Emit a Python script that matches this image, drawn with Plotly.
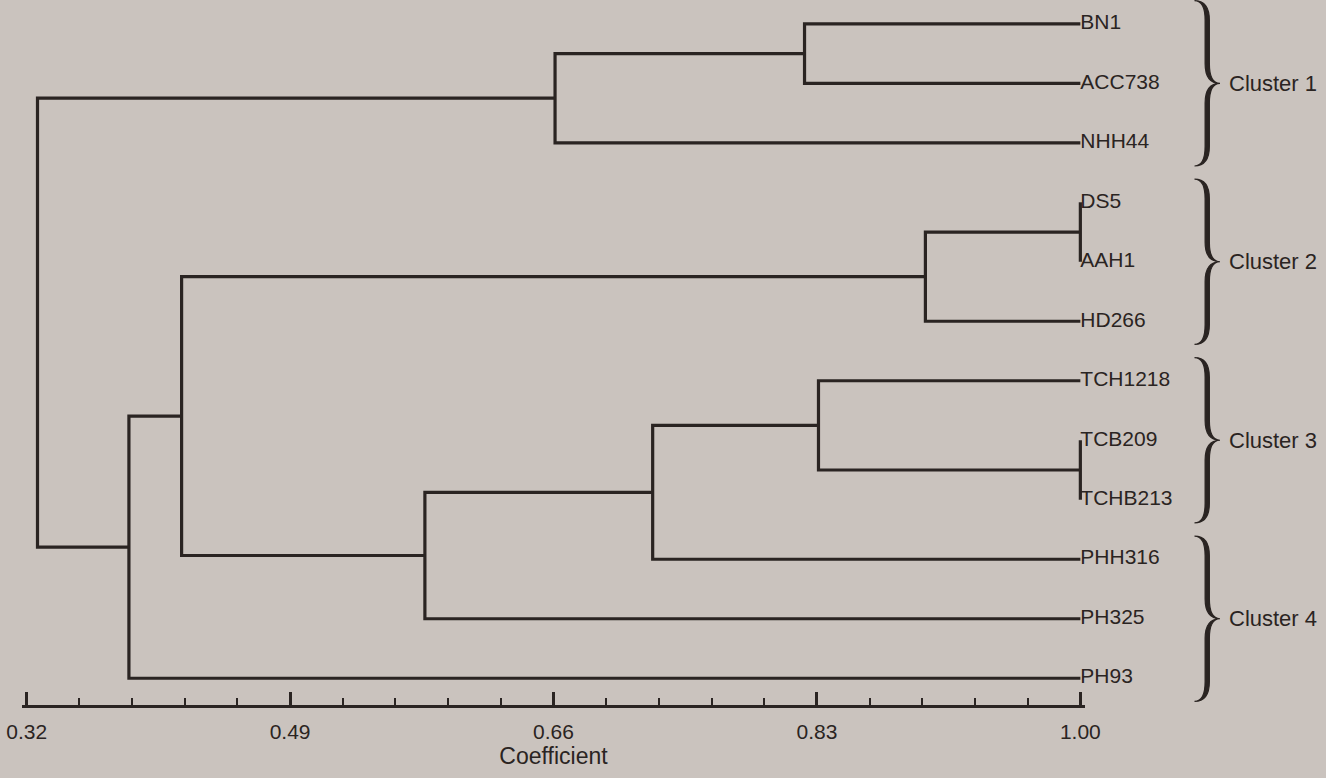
import plotly.graph_objects as go

# ---------------- data ----------------
leaves = ["BN1", "ACC738", "NHH44", "DS5", "AAH1", "HD266",
          "TCH1218", "TCB209", "TCHB213", "PHH316", "PH325", "PH93"]
leaf_coef = 1.00

merge_ids   = ["m0", "m1", "m2", "m3", "m4", "m5", "m6", "m7", "m8", "m9", "m10"]
merge_left  = ["BN1", "m0", "DS5", "m2", "TCB209", "TCH1218", "m5", "m6", "m3", "m8", "m1"]
merge_right = ["ACC738", "NHH44", "AAH1", "HD266", "TCHB213", "m4", "PHH316", "PH325", "m7", "PH93", "m9"]
merge_coef  = [0.822, 0.661, 1.00, 0.900, 1.00, 0.831, 0.724, 0.577, 0.420, 0.386, 0.327]

cluster_names = ["Cluster 1", "Cluster 2", "Cluster 3", "Cluster 4"]
cluster_first = ["BN1", "DS5", "TCH1218", "PHH316"]
cluster_last  = ["NHH44", "HD266", "TCHB213", "PH93"]

tick_vals = [0.32, 0.49, 0.66, 0.83, 1.00]
tick_text = ["0.32", "0.49", "0.66", "0.83", "1.00"]
axis_title = "Coefficient"

# ---------------- style ----------------
INK = "#2a2422"
BG = "#cac3be"
FONT = "Liberation Sans, Arial, sans-serif"

# ---------------- build dendrogram segments ----------------
pos = {name: (leaf_coef, i) for i, name in enumerate(leaves)}
xs, ys = [], []
for mid, l, r, h in zip(merge_ids, merge_left, merge_right, merge_coef):
    xl, yl = pos[l]
    xr, yr = pos[r]
    xs += [xl, h, h, xr, None]
    ys += [yl, yl, yr, yr, None]
    pos[mid] = (h, (yl + yr) / 2)

fig = go.Figure()
fig.add_trace(go.Scatter(
    x=xs, y=ys, mode="lines",
    line=dict(color=INK, width=3.2),
    hoverinfo="skip", showlegend=False,
))

# leaf labels
fig.add_trace(go.Scatter(
    x=[leaf_coef] * len(leaves), y=list(range(len(leaves))),
    mode="text", text=leaves, textposition="middle right",
    textfont=dict(family=FONT, size=21, color=INK),
    cliponaxis=False, hoverinfo="skip", showlegend=False,
))

# braces (calligraphic, filled) + cluster labels
shapes = []
annotations = []
xl_p, xs_p, xt_p, xlab = 1.103, 1.113, 1.127, 1.134
w = 0.004
rr = 0.33
ext = 0.39
for name, first, last in zip(cluster_names, cluster_first, cluster_last):
    y0 = leaves.index(first) - ext
    y1 = leaves.index(last) + ext
    ym = (y0 + y1) / 2
    xi = xs_p + w
    path = (f"M {xl_p},{y0} Q {xs_p},{y0} {xs_p},{y0 + rr} "
            f"L {xs_p},{ym - rr} Q {xs_p},{ym} {xt_p},{ym} "
            f"Q {xs_p},{ym} {xs_p},{ym + rr} "
            f"L {xs_p},{y1 - rr} Q {xs_p},{y1} {xl_p},{y1} "
            f"Q {xi},{y1} {xi},{y1 - rr} "
            f"L {xi},{ym + rr} Q {xi},{ym} {xt_p},{ym} "
            f"Q {xi},{ym} {xi},{ym - rr} "
            f"L {xi},{y0 + rr} Q {xi},{y0} {xl_p},{y0} Z")
    shapes.append(dict(type="path", path=path, xref="paper", yref="y",
                       fillcolor=INK, line=dict(color=INK, width=1.2)))
    annotations.append(dict(text=name, x=xlab, y=ym, xref="paper", yref="y",
                            xanchor="left", yanchor="middle", showarrow=False,
                            font=dict(family=FONT, size=22, color=INK)))

fig.update_layout(
    width=1326, height=778,
    margin=dict(l=22, r=241, t=0, b=73),
    paper_bgcolor=BG, plot_bgcolor=BG,
    shapes=shapes, annotations=annotations,
    showlegend=False,
    xaxis=dict(
        range=[0.317, 1.003],
        showgrid=False, zeroline=False,
        showline=True, linecolor=INK, linewidth=3,
        tickmode="array", tickvals=tick_vals, ticktext=tick_text,
        ticks="inside", ticklen=13, tickwidth=2.5, tickcolor=INK,
        ticklabelstandoff=6,
        minor=dict(tickmode="linear", tick0=0.32, dtick=0.034,
                   ticks="inside", ticklen=7, tickwidth=1.8, tickcolor=INK,
                   showgrid=False),
        tickfont=dict(family=FONT, size=21, color=INK),
        title=dict(text=axis_title, font=dict(family=FONT, size=23, color=INK),
                   standoff=4),
    ),
    yaxis=dict(range=[11.45, -0.4], visible=False),
)

fig.write_html("out.html", config={"displayModeBar": False},
               post_script="document.body.style.margin='0px';")
